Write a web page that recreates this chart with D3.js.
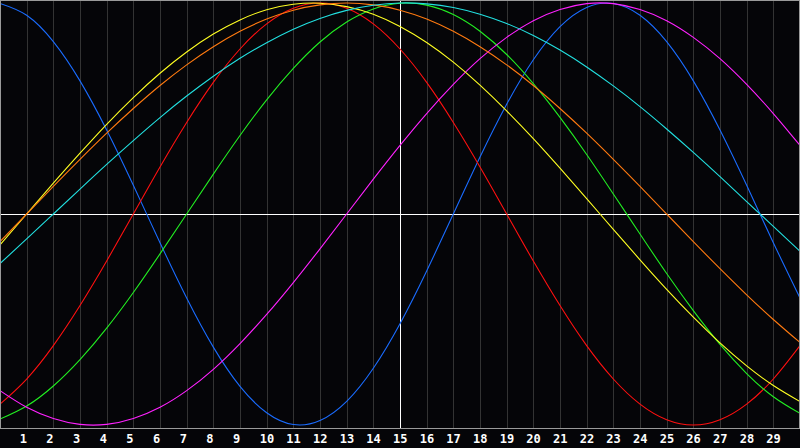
<!DOCTYPE html>
<html>
<head>
<meta charset="utf-8">
<script src="https://cdn.jsdelivr.net/npm/d3@7"></script>
<style>
  html, body { margin: 0; padding: 0; background: #000; }
  svg { display: block; }
</style>
</head>
<body>
<div id="chart"></div>
<script>
// days shown on the chart (0 .. 30)
var days = d3.range(0, 31);
var tickDays = d3.range(1, 30);

// cycle values per day (-1 .. 1)
var blue = [0.998, 0.942, 0.817, 0.631, 0.398, 0.136, -0.136, -0.398, -0.631, -0.817,
  -0.942, -0.998, -0.979, -0.888, -0.731, -0.520, -0.270, 0.000, 0.270, 0.520,
  0.731, 0.888, 0.979, 0.998, 0.942, 0.817, 0.631, 0.398, 0.136, -0.136, -0.398];
var red = [-0.901, -0.782, -0.624, -0.434, -0.223, 0.000, 0.223, 0.434, 0.624, 0.782,
  0.901, 0.975, 1.000, 0.975, 0.901, 0.782, 0.624, 0.434, 0.223, 0.000,
  -0.223, -0.434, -0.624, -0.782, -0.901, -0.975, -1.000, -0.975, -0.901, -0.782, -0.624];
var green = [-0.972, -0.910, -0.815, -0.690, -0.541, -0.372, -0.189, 0.000, 0.189, 0.372,
  0.541, 0.690, 0.815, 0.910, 0.972, 0.999, 0.990, 0.945, 0.866, 0.756,
  0.618, 0.458, 0.282, 0.095, -0.095, -0.282, -0.458, -0.618, -0.756, -0.866, -0.945];
var magenta = [-0.837, -0.916, -0.969, -0.997, -0.997, -0.969, -0.916, -0.837, -0.736, -0.614,
  -0.476, -0.325, -0.165, 0.000, 0.165, 0.325, 0.476, 0.614, 0.736, 0.837,
  0.916, 0.969, 0.997, 0.997, 0.969, 0.916, 0.837, 0.736, 0.614, 0.476, 0.325];
var yellow = [-0.146, 0.000, 0.146, 0.288, 0.425, 0.552, 0.667, 0.768, 0.853, 0.920,
  0.968, 0.994, 0.999, 0.983, 0.947, 0.889, 0.813, 0.720, 0.611, 0.489,
  0.357, 0.217, 0.073, -0.073, -0.217, -0.357, -0.489, -0.611, -0.720, -0.813, -0.889];
var orange = [-0.131, 0.000, 0.131, 0.259, 0.383, 0.500, 0.609, 0.707, 0.793, 0.866,
  0.924, 0.966, 0.991, 1.000, 0.991, 0.966, 0.924, 0.866, 0.793, 0.707,
  0.609, 0.500, 0.383, 0.259, 0.131, 0.000, -0.131, -0.259, -0.383, -0.500, -0.609];
var cyan = [-0.235, -0.118, 0.000, 0.118, 0.235, 0.348, 0.457, 0.559, 0.653, 0.738,
  0.812, 0.876, 0.927, 0.965, 0.989, 1.000, 0.996, 0.979, 0.947, 0.903,
  0.846, 0.777, 0.697, 0.607, 0.509, 0.403, 0.292, 0.177, 0.059, -0.059, -0.177];

var series = [
  {name: "blue", color: "#1a6cff", values: blue},
  {name: "red", color: "#ff1010", values: red},
  {name: "green", color: "#22ee22", values: green},
  {name: "magenta", color: "#ff22ff", values: magenta},
  {name: "yellow", color: "#ffff22", values: yellow},
  {name: "orange", color: "#ff7a10", values: orange},
  {name: "cyan", color: "#22e0e0", values: cyan}
];

var width = 800, height = 448, plotBottom = 428;

var svg = d3.select("#chart").append("svg")
    .attr("width", width)
    .attr("height", height);

svg.append("rect")
    .attr("width", width)
    .attr("height", height)
    .attr("fill", "#050508");

// set the ranges
var x = d3.scaleLinear().domain([0, 30]).range([0, 800]);
var y = d3.scaleLinear().domain([-1, 1]).range([425, 3]);

// vertical day lines
svg.append("g")
    .attr("shape-rendering", "crispEdges")
    .selectAll("line")
    .data(tickDays)
    .enter().append("line")
    .attr("x1", function(d) { return Math.round(x(d)) + 0.5; })
    .attr("x2", function(d) { return Math.round(x(d)) + 0.5; })
    .attr("y1", 0)
    .attr("y2", plotBottom)
    .attr("stroke", function(d) { return d === 15 ? "#ffffff" : "#333333"; })
    .attr("stroke-width", 1);

// zero line
svg.append("line")
    .attr("shape-rendering", "crispEdges")
    .attr("x1", 0)
    .attr("x2", width)
    .attr("y1", Math.round(y(0)) + 0.5)
    .attr("y2", Math.round(y(0)) + 0.5)
    .attr("stroke", "#ffffff")
    .attr("stroke-width", 1);

// the curves
var line = d3.line()
    .x(function(d, i) { return x(days[i]); })
    .y(function(d) { return y(d); })
    .curve(d3.curveNatural);

svg.append("g")
    .selectAll("path")
    .data(series)
    .enter().append("path")
    .attr("d", function(s) { return line(s.values); })
    .attr("fill", "none")
    .attr("stroke", function(s) { return s.color; })
    .attr("stroke-width", 1.1);

// border round the plot
svg.append("path")
    .attr("shape-rendering", "crispEdges")
    .attr("d", "M0.5," + (plotBottom + 0.5) + "V0.5H799.5V" + (plotBottom + 0.5) + "H0.5")
    .attr("fill", "none")
    .attr("stroke", "#9a9a9a")
    .attr("stroke-width", 1);

// day labels
svg.append("g")
    .selectAll("text")
    .data(tickDays)
    .enter().append("text")
    .attr("x", function(d) { return x(d) - 7; })
    .attr("y", 443)
    .attr("fill", "#ffffff")
    .attr("font-family", "'DejaVu Sans Mono', monospace")
    .attr("font-weight", "bold")
    .attr("font-size", "12px")
    .text(function(d) { return d; });
</script>
</body>
</html>
